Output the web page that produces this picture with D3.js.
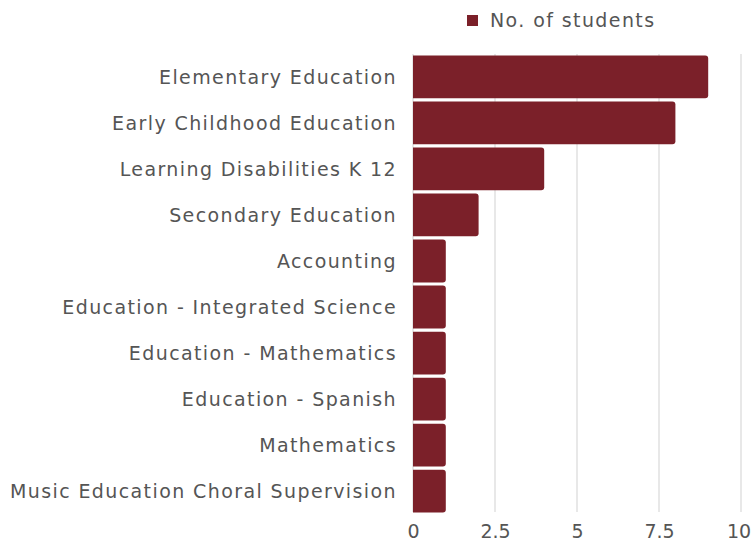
<!DOCTYPE html>
<html>
<head>
<meta charset="utf-8">
<script src="https://cdn.jsdelivr.net/npm/d3@7"></script>
<style>
  body { margin: 0; background: #fff; }
  svg { display: block; }
</style>
</head>
<body>
<div id="vis"></div>
<script>
// Frame size and margins
const FRAME_WIDTH = 752;
const FRAME_HEIGHT = 544;
const MARGINS = {left: 413, right: 11, top: 54, bottom: 30};
const VIS_WIDTH = FRAME_WIDTH - MARGINS.left - MARGINS.right;
const VIS_HEIGHT = FRAME_HEIGHT - MARGINS.top - MARGINS.bottom;

// Data
const categories = [
  "Elementary Education",
  "Early Childhood Education",
  "Learning Disabilities K 12",
  "Secondary Education",
  "Accounting",
  "Education - Integrated Science",
  "Education - Mathematics",
  "Education - Spanish",
  "Mathematics",
  "Music Education Choral Supervision"
];
const students = [9, 8, 4, 2, 1, 1, 1, 1, 1, 1];
const xTicks = [0, 2.5, 5, 7.5, 10];
const seriesName = "No. of students";

const BAR_COLOR = "#7b2029";
const TEXT_COLOR = "#555555";
const FONT = "'DejaVu Sans', sans-serif";
const FONT_SIZE = "19px";
const SPACING = "1.4px";

const FRAME = d3.select("#vis")
  .append("svg")
    .attr("width", FRAME_WIDTH)
    .attr("height", FRAME_HEIGHT)
    .style("font-family", FONT);

// Scales
const X_SCALE = d3.scaleLinear()
  .domain([0, 10])
  .range([0, VIS_WIDTH]);

const Y_SCALE = d3.scaleBand()
  .domain(categories)
  .range([0, VIS_HEIGHT])
  .paddingInner(0.07)
  .paddingOuter(0.03);

const g = FRAME.append("g")
  .attr("transform", "translate(" + MARGINS.left + "," + MARGINS.top + ")");

// Gridlines
g.append("g")
  .selectAll("line")
  .data(xTicks)
  .enter()
  .append("line")
    .attr("x1", (d) => X_SCALE(d))
    .attr("x2", (d) => X_SCALE(d))
    .attr("y1", 0)
    .attr("y2", VIS_HEIGHT - 2)
    .attr("stroke", "#e0e0e0")
    .attr("stroke-width", 1.5);

// Bars (rounded on the right end only)
function barPath(d, i) {
  const y0 = Y_SCALE(categories[i]);
  const h = Y_SCALE.bandwidth();
  const w = X_SCALE(d);
  const r = 3;
  return "M0," + y0 +
    "H" + (w - r) +
    "Q" + w + "," + y0 + " " + w + "," + (y0 + r) +
    "V" + (y0 + h - r) +
    "Q" + w + "," + (y0 + h) + " " + (w - r) + "," + (y0 + h) +
    "H0Z";
}

g.append("g")
  .selectAll("path")
  .data(students)
  .enter()
  .append("path")
    .attr("d", (d, i) => barPath(d, i))
    .attr("fill", BAR_COLOR);

// Category labels
const yAxis = g.append("g")
  .call(d3.axisLeft(Y_SCALE).tickSize(0).tickPadding(16));
yAxis.select(".domain").remove();
yAxis.selectAll("text")
  .attr("fill", TEXT_COLOR)
  .attr("dy", "0.38em")
  .style("font-size", FONT_SIZE)
  .style("letter-spacing", SPACING)
  .style("font-family", FONT);

// X tick labels
const xAxis = g.append("g")
  .attr("transform", "translate(0," + VIS_HEIGHT + ")")
  .call(d3.axisBottom(X_SCALE).tickValues(xTicks).tickFormat(d3.format("")).tickSize(0).tickPadding(11));
xAxis.select(".domain").remove();
xAxis.selectAll("text")
  .attr("fill", TEXT_COLOR)
  .style("font-size", FONT_SIZE)
  .style("font-family", FONT);
// keep the last label inside the frame
xAxis.selectAll("text")
  .filter((d) => d === 10)
  .attr("dx", -2.5);

// Legend
const legend = FRAME.append("g")
  .attr("transform", "translate(467,15)");
legend.append("rect")
  .attr("width", 11)
  .attr("height", 11)
  .attr("fill", BAR_COLOR);
legend.append("text")
  .attr("x", 23)
  .attr("y", 12)
  .attr("fill", TEXT_COLOR)
  .style("font-size", FONT_SIZE)
  .style("letter-spacing", SPACING)
  .text(seriesName);
</script>
</body>
</html>
